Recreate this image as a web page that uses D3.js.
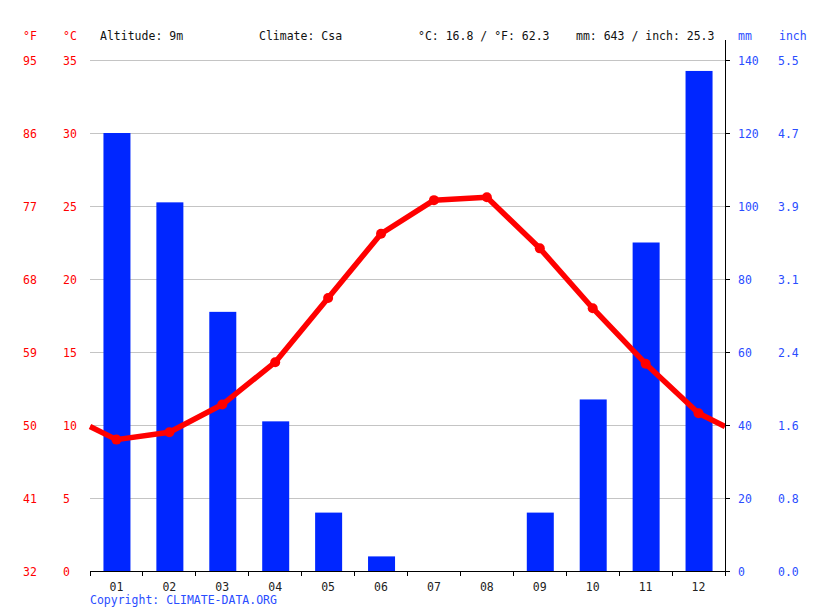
<!DOCTYPE html>
<html><head><meta charset="utf-8">
<script src="https://cdn.jsdelivr.net/npm/d3@7"></script>
<style>
body{margin:0;background:#fff;}
text{font-family:"DejaVu Sans Mono",monospace;font-size:11.5px;}
</style></head>
<body><svg id="c" width="815" height="611"></svg>
<script>
const months = ["01","02","03","04","05","06","07","08","09","10","11","12"];
const tempC = [9.0,9.5,11.4,14.3,18.7,23.1,25.4,25.6,22.1,18.0,14.2,10.8];
const precipMM = [120,101,71,41,16,4,0,0,16,47,90,137];
const cTicks = [0,5,10,15,20,25,30,35];
const fTicks = ["32","41","50","59","68","77","86","95"];
const mmTicks = [0,20,40,60,80,100,120,140];
const inchTicks = ["0.0","0.8","1.6","2.4","3.1","3.9","4.7","5.5"];
const header = ["Altitude: 9m","Climate: Csa","°C: 16.8 / °F: 62.3","mm: 643 / inch: 25.3"];

const svg = d3.select("#c");
const L=90,R=725,T=60,B=571;
const x = d3.scaleBand().domain(months).range([L,R]);
const yC = d3.scaleLinear().domain([0,35]).range([B,T]);
const yMM = d3.scaleLinear().domain([0,140]).range([B,T]);
const red="#ff0000", blue="#0026ff", lblue="#2a4dff";

// grid
svg.append("g").selectAll("line").data(cTicks.slice(1)).join("line")
 .attr("x1",L).attr("x2",R).attr("y1",d=>yC(d)).attr("y2",d=>yC(d))
 .attr("stroke","#c4c4c4").attr("stroke-width",1).attr("shape-rendering","crispEdges");

// bars
const bw=27;
svg.append("g").selectAll("rect").data(precipMM).join("rect")
 .attr("x",(d,i)=>x(months[i])+x.bandwidth()/2-bw/2+0.5)
 .attr("width",bw)
 .attr("y",d=>yMM(d)).attr("height",d=>B-yMM(d))
 .attr("fill",blue);

// line with edges extended
const edge=(tempC[0]+tempC[11])/2;
const pts=[[L,yC(edge)]].concat(tempC.map((t,i)=>[x(months[i])+x.bandwidth()/2,yC(t)])).concat([[R,yC(edge)]]);
svg.append("path").attr("d",d3.line()(pts)).attr("fill","none").attr("stroke",red)
 .attr("stroke-width",5.5).attr("stroke-linejoin","round");
svg.append("g").selectAll("circle").data(tempC).join("circle")
 .attr("cx",(d,i)=>x(months[i])+x.bandwidth()/2).attr("cy",d=>yC(d)).attr("r",5).attr("fill",red);

// x axis
const xAx = svg.append("g").attr("transform",`translate(0,${B})`);
xAx.append("line").attr("x1",L).attr("x2",R).attr("stroke","#000").attr("shape-rendering","crispEdges");
xAx.selectAll("line.t").data(d3.range(13)).join("line").attr("class","t")
 .attr("x1",i=>L+i*x.bandwidth()).attr("x2",i=>L+i*x.bandwidth()).attr("y1",0).attr("y2",5)
 .attr("stroke","#000").attr("shape-rendering","crispEdges");
xAx.selectAll("text").data(months).join("text")
 .attr("x",d=>x(d)+x.bandwidth()/2).attr("y",20).attr("text-anchor","middle").attr("fill","#222").text(d=>d);

// right axis
svg.append("line").attr("x1",R).attr("x2",R).attr("y1",40).attr("y2",B).attr("stroke","#000").attr("shape-rendering","crispEdges");
svg.append("g").selectAll("line").data(mmTicks).join("line")
 .attr("x1",R).attr("x2",R+5).attr("y1",d=>yMM(d)).attr("y2",d=>yMM(d)).attr("stroke","#000").attr("shape-rendering","crispEdges");
svg.append("g").selectAll("text").data(mmTicks).join("text")
 .attr("x",738).attr("y",d=>yMM(d)+5).attr("fill",lblue).text(d=>d);
svg.append("g").selectAll("text").data(inchTicks).join("text")
 .attr("x",778).attr("y",(d,i)=>yMM(mmTicks[i])+5).attr("fill",lblue).text(d=>d);

// left labels
svg.append("g").selectAll("text").data(cTicks).join("text")
 .attr("x",63).attr("y",d=>yC(d)+5).attr("fill",red).text(d=>d);
svg.append("g").selectAll("text").data(fTicks).join("text")
 .attr("x",23).attr("y",(d,i)=>yC(cTicks[i])+5).attr("fill",red).text(d=>d);

// unit headers
svg.append("text").attr("x",23).attr("y",40).attr("fill",red).text("°F");
svg.append("text").attr("x",63).attr("y",40).attr("fill",red).text("°C");
svg.append("text").attr("x",738).attr("y",40).attr("fill",lblue).text("mm");
svg.append("text").attr("x",779).attr("y",40).attr("fill",lblue).text("inch");

const hx=[100,259,418,576];
svg.append("g").selectAll("text").data(header).join("text")
 .attr("x",(d,i)=>hx[i]).attr("y",40).attr("fill","#111").text(d=>d);

svg.append("text").attr("x",90).attr("y",604).attr("fill",lblue).text("Copyright: CLIMATE-DATA.ORG");
</script></body></html>
